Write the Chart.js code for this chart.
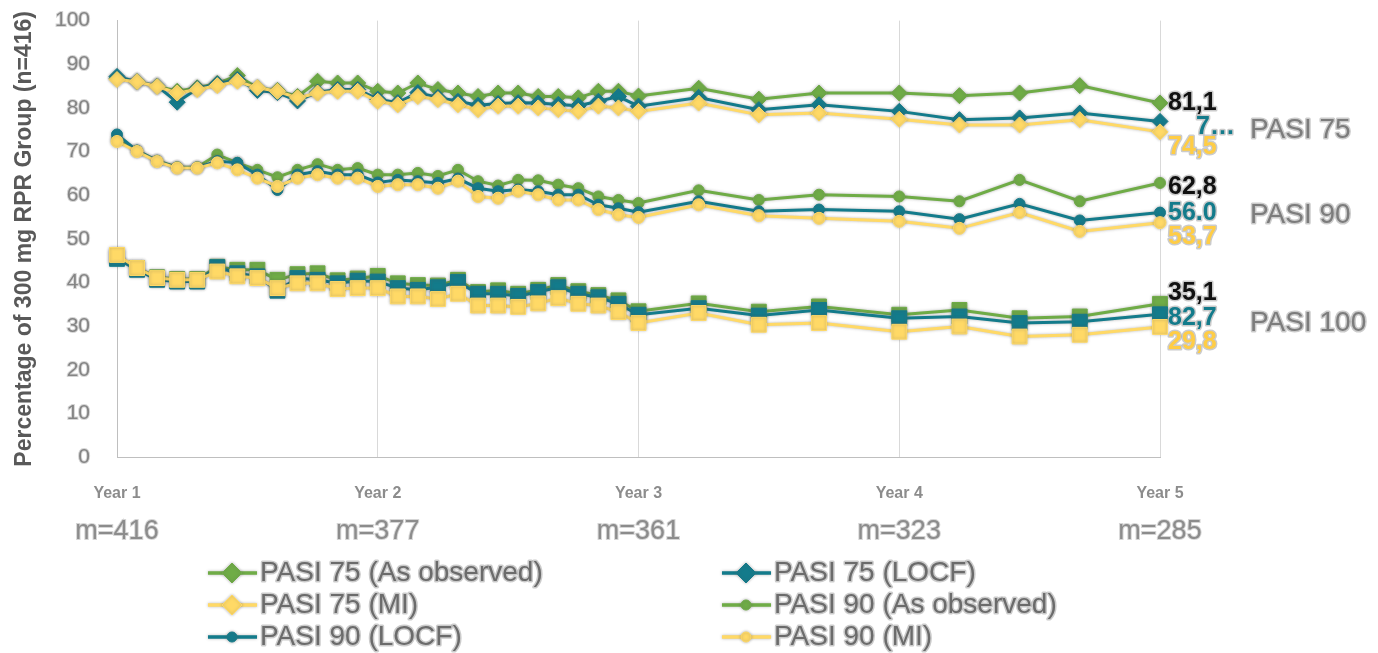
<!DOCTYPE html>
<html>
<head>
<meta charset="utf-8">
<title>PASI response over five years</title>
<script src="https://cdn.jsdelivr.net/npm/chart.js@4.4.1/dist/chart.umd.min.js"></script>
<style>
  html, body { margin: 0; padding: 0; background: #fff; }
  #pasiChart { display: block; }
</style>
</head>
<body>
<canvas id="pasiChart" width="1378" height="653"></canvas>
<script>
// visit week, counted from the Year 1 visit
const weeks = [0, 4, 8, 12, 16, 20, 24, 28, 32, 36, 40, 44, 48, 52, 56, 60, 64, 68, 72, 76, 80, 84, 88, 92, 96, 100, 104,
    116, 128, 140, 156, 168, 180, 192, 208]

const yearLabels = ['Year 1', 'Year 2', 'Year 3', 'Year 4', 'Year 5']
const patientCounts = ['m=416', 'm=377', 'm=361', 'm=323', 'm=285']

const pasi75Observed = [86.8, 86.0, 85.0, 83.8, 84.6, 85.6, 87.4, 84.6, 84.0, 82.6, 86.1, 85.7, 85.7, 83.8, 83.4, 85.7, 84.2, 83.4,
    82.6, 83.4, 83.4, 82.6, 82.6, 82.3, 83.8, 83.8, 82.7, 84.5, 82.0, 83.4, 83.4, 82.8, 83.4, 85.1, 81.1]
const pasi75Locf = [87.2, 86.0, 85.0, 81.3, 84.4, 85.5, 86.5, 84.0, 83.5, 81.6, 83.6, 84.2, 84.2, 82.0, 81.2, 83.5, 82.4, 81.5,
    80.6, 81.0, 81.2, 81.1, 80.8, 80.5, 81.5, 82.6, 80.4, 82.4, 79.6, 80.7, 79.2, 77.3, 77.7, 78.8, 76.9]
const pasi75Mi = [86.5, 86.0, 84.9, 83.4, 84.2, 85.1, 86.1, 84.6, 83.8, 82.3, 83.4, 83.8, 83.8, 81.5, 80.7, 82.6, 81.9, 80.7,
    79.6, 80.4, 80.4, 80.0, 79.6, 79.2, 80.4, 80.0, 79.2, 81.1, 78.4, 78.8, 77.4, 76.1, 76.1, 77.3, 74.5]

const pasi90Observed = [72.8, 70.2, 67.9, 66.4, 66.4, 69.3, 67.4, 65.8, 64.1, 65.8, 67.1, 65.8, 66.2, 64.7, 64.7, 65.1, 64.4, 65.8,
    63.2, 62.2, 63.5, 63.4, 62.4, 61.6, 59.7, 58.9, 58.2, 61.1, 58.9, 60.1, 59.7, 58.6, 63.5, 58.6, 62.8]
const pasi90Locf = [73.9, 70.2, 67.8, 66.3, 66.3, 67.8, 67.4, 64.7, 61.2, 64.7, 65.5, 64.7, 64.7, 62.9, 63.5, 63.2, 62.8, 63.8,
    61.6, 60.9, 61.3, 60.9, 60.1, 60.1, 57.8, 57.0, 56.1, 58.6, 56.3, 56.7, 56.3, 54.5, 58.0, 54.2, 56.0]
const pasi90Mi = [72.3, 70.0, 67.7, 66.2, 66.2, 67.4, 65.8, 63.9, 62.0, 63.9, 64.7, 63.9, 63.9, 62.0, 62.4, 62.4, 61.6, 63.2,
    59.7, 59.3, 60.9, 60.1, 58.9, 58.9, 56.7, 55.5, 54.9, 57.8, 55.3, 54.7, 54.0, 52.4, 56.0, 51.7, 53.7]

const pasi100Observed = [46.0, 43.3, 41.2, 40.8, 40.8, 43.6, 42.9, 42.9, 40.6, 41.9, 42.1, 40.5, 40.9, 41.5, 39.8, 39.4, 39.3, 40.6,
    37.8, 38.2, 37.4, 38.3, 39.4, 38.0, 37.1, 35.9, 33.4, 35.2, 33.3, 34.5, 32.6, 33.7, 31.8, 32.2, 35.1]
const pasi100Locf = [45.4, 42.9, 40.6, 40.2, 40.2, 43.5, 42.1, 41.4, 38.1, 41.0, 40.6, 39.8, 40.4, 40.2, 38.7, 38.3, 38.9, 40.1,
    37.4, 37.4, 36.9, 37.8, 38.9, 37.4, 36.6, 35.1, 32.6, 34.1, 32.4, 33.7, 31.8, 32.2, 30.7, 31.0, 32.7]
const pasi100Mi = [46.3, 43.3, 41.0, 40.6, 40.6, 42.5, 41.4, 41.0, 38.7, 39.8, 39.8, 38.5, 38.7, 38.7, 36.8, 36.8, 36.2, 37.4,
    34.7, 34.7, 34.4, 35.2, 36.4, 35.1, 34.7, 33.2, 30.7, 33.0, 30.3, 30.7, 28.7, 29.9, 27.6, 28.0, 29.8]

// printed next to the last visit of each series
const endLabels = ['81,1', '7…', '74,5', '62,8', '56.0', '53,7', '35,1', '82,7', '29,8']
const groupNames = ['PASI 75', 'PASI 90', 'PASI 100']

const GREEN = '#6fac46'
const TEAL = '#137b8b'
const YELLOW = '#ffd966'
const FONT = "'Liberation Sans', Arial, sans-serif"

function series(label, values, color, pointStyle, radius, order) {
    return {
        label: label,
        data: weeks.map((w, i) => ({ x: w, y: values[i] })),
        borderColor: color,
        backgroundColor: color,
        pointBackgroundColor: color,
        pointBorderColor: color,
        borderWidth: 3,
        pointStyle: pointStyle,
        pointRadius: radius,
        pointBorderWidth: 1,
        tension: 0,
        clip: false,
        order: order
    }
}

const datasets = [
    series('PASI 75 (As observed)', pasi75Observed, GREEN, 'rectRot', 8, 3),
    series('PASI 75 (LOCF)', pasi75Locf, TEAL, 'rectRot', 8, 2),
    series('PASI 75 (MI)', pasi75Mi, YELLOW, 'rectRot', 8, 1),
    series('PASI 90 (As observed)', pasi90Observed, GREEN, 'circle', 5.5, 3),
    series('PASI 90 (LOCF)', pasi90Locf, TEAL, 'circle', 5.5, 2),
    series('PASI 90 (MI)', pasi90Mi, YELLOW, 'circle', 6, 1),
    series('PASI 100 (As observed)', pasi100Observed, GREEN, 'rect', 10.5, 3),
    series('PASI 100 (LOCF)', pasi100Locf, TEAL, 'rect', 10.5, 2),
    series('PASI 100 (MI)', pasi100Mi, YELLOW, 'rect', 10.5, 1)
]

// label colour and offset from the last point, one per series
const endLabelStyle = [
    { color: '#111', dx: 8, dy: 0 },
    { color: TEAL, dx: 36, dy: 6 },
    { color: '#ffcd45', dx: 8, dy: 15 },
    { color: '#111', dx: 8, dy: 4 },
    { color: TEAL, dx: 8, dy: 0 },
    { color: '#ffcd45', dx: 8, dy: 14 },
    { color: '#111', dx: 8, dy: -11 },
    { color: TEAL, dx: 8, dy: 4 },
    { color: '#ffcd45', dx: 8, dy: 15 }
]
// vertical position of the group names, in axis units
const groupNameAt = [74.8, 55.5, 30.7]

function haloText(ctx, text, x, y, fill) {
    ctx.lineJoin = 'round'
    ctx.lineWidth = 3
    ctx.strokeStyle = 'rgba(140, 140, 140, 0.45)'
    ctx.strokeText(text, x, y)
    ctx.fillStyle = fill
    ctx.fillText(text, x, y)
}

// soft grey glow behind lines and markers
const glow = {
    id: 'glow',
    beforeDatasetDraw(chart) {
        const ctx = chart.ctx
        ctx.save()
        ctx.shadowColor = 'rgba(90, 90, 90, 0.45)'
        ctx.shadowBlur = 3
    },
    afterDatasetDraw(chart) {
        chart.ctx.restore()
    }
}

const annotations = {
    id: 'annotations',
    afterDatasetsDraw(chart) {
        const ctx = chart.ctx
        const yScale = chart.scales.y
        ctx.save()
        ctx.textBaseline = 'middle'
        ctx.textAlign = 'left'

        // values at the last visit
        ctx.font = 'bold 25px ' + FONT
        chart.data.datasets.forEach((ds, i) => {
            const meta = chart.getDatasetMeta(i)
            const last = meta.data[meta.data.length - 1]
            const st = endLabelStyle[i]
            haloText(ctx, endLabels[i], last.x + st.dx, last.y + st.dy, st.color)
        })

        // group names on the right
        ctx.font = '28px ' + FONT
        groupNames.forEach((name, i) => {
            haloText(ctx, name, chart.chartArea.right + 90, yScale.getPixelForValue(groupNameAt[i]), '#7c7c7c')
        })

        // two-column legend for the PASI 75 and PASI 90 series
        const cols = [208, 722]
        const rows = [573, 605, 637]
        ctx.font = '28px ' + FONT
        for (let i = 0; i < 6; i++) {
            const ds = chart.data.datasets[i]
            const x = cols[i % 2]
            const y = rows[Math.floor(i / 2)]
            ctx.save()
            ctx.shadowColor = 'rgba(90, 90, 90, 0.45)'
            ctx.shadowBlur = 3
            ctx.strokeStyle = ds.borderColor
            ctx.fillStyle = ds.backgroundColor
            ctx.lineWidth = 3.5
            ctx.beginPath()
            ctx.moveTo(x, y)
            ctx.lineTo(x + 49, y)
            ctx.stroke()
            ctx.lineWidth = 1
            Chart.helpers.drawPoint(ctx, {
                pointStyle: ds.pointStyle,
                radius: ds.pointStyle === 'circle' ? 5 : 10,
                rotation: 0,
                borderWidth: 1
            }, x + 24, y)
            ctx.restore()
            haloText(ctx, ds.label, x + 52, y, '#6b6b6b')
        }
        ctx.restore()
    }
}

const ctx = document.getElementById('pasiChart')

const graph = new Chart(ctx, {
    type: 'line',
    data: { datasets: datasets },
    options: {
        responsive: false,
        animation: false,
        events: [],
        layout: { padding: { top: 20, right: 218, bottom: 101, left: 0 } },
        plugins: {
            legend: { display: false },
            tooltip: { enabled: false }
        },
        scales: {
            x: {
                type: 'linear',
                min: 0,
                max: 208,
                weight: 0,
                afterFit: s => { s.height = 50 },
                grid: { color: '#d9d9d9', lineWidth: 1, drawTicks: false },
                border: { color: '#bfbfbf', width: 1 },
                ticks: {
                    stepSize: 52,
                    autoSkip: false,
                    maxRotation: 0,
                    padding: 27,
                    color: '#8c8c8c',
                    font: { family: FONT, size: 16, weight: 'bold' },
                    callback: (value, index) => yearLabels[index]
                }
            },
            x2: {
                type: 'linear',
                position: 'bottom',
                min: 0,
                max: 208,
                weight: 1,
                afterFit: s => { s.height = 45 },
                grid: { display: false, drawTicks: false },
                border: { display: false },
                ticks: {
                    stepSize: 52,
                    autoSkip: false,
                    maxRotation: 0,
                    padding: 8,
                    color: '#8c8c8c',
                    textStrokeColor: 'rgba(150, 150, 150, 0.4)',
                    textStrokeWidth: 2,
                    font: { family: FONT, size: 27 },
                    callback: (value, index) => patientCounts[index]
                }
            },
            y: {
                min: 0,
                max: 100,
                afterFit: s => { s.width = 117 },
                // invisible tick marks keep the labels clear of the axis line
                grid: { drawOnChartArea: false, drawTicks: true, tickLength: 19, tickColor: 'rgba(0, 0, 0, 0)' },
                border: { color: '#bfbfbf', width: 1 },
                ticks: {
                    stepSize: 10,
                    padding: 8,
                    color: '#858585',
                    textStrokeColor: 'rgba(150, 150, 150, 0.4)',
                    textStrokeWidth: 2,
                    font: { family: FONT, size: 21 }
                },
                title: {
                    display: true,
                    text: 'Percentage of 300 mg RPR Group (n=416)',
                    color: '#595959',
                    padding: { top: 11, bottom: 0 },
                    font: { family: FONT, size: 23, weight: 'bold' }
                }
            }
        }
    },
    plugins: [glow, annotations]
})
</script>
</body>
</html>
